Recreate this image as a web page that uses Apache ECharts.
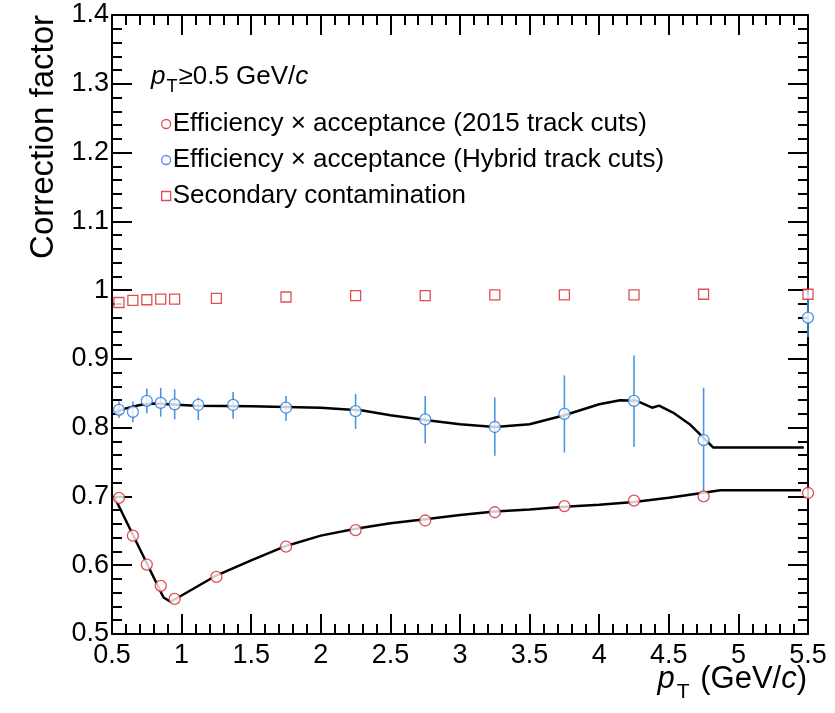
<!DOCTYPE html>
<html>
<head>
<meta charset="utf-8">
<script src="https://cdn.jsdelivr.net/npm/echarts@6/dist/echarts.min.js"></script>
<style>
  html, body { margin: 0; padding: 0; background: #fff; }
  #chart { width: 835px; height: 713px; }
</style>
</head>
<body>
<div id="chart"></div>
<script>
// x positions (GeV/c)
var ptRed = [0.55, 0.65, 0.75, 0.85, 0.95, 1.25, 1.75, 2.25, 2.75, 3.25, 3.75, 4.25, 4.75, 5.5];
var ptBlue = [0.55, 0.65, 0.75, 0.85, 0.95, 1.12, 1.37, 1.75, 2.25, 2.75, 3.25, 3.75, 4.25, 4.75, 5.5];
// efficiency x acceptance, 2015 track cuts
var eff2015 = [0.698, 0.643, 0.601, 0.570, 0.551, 0.583, 0.627, 0.651, 0.665, 0.677, 0.686, 0.694, 0.700, 0.705];
// efficiency x acceptance, hybrid track cuts, with error bar ends
var effHybrid = [0.826, 0.823, 0.839, 0.836, 0.834, 0.833, 0.833, 0.829, 0.824, 0.812, 0.801, 0.820, 0.839, 0.782, 0.960];
var hybLow  = [0.814, 0.808, 0.821, 0.816, 0.812, 0.811, 0.813, 0.810, 0.798, 0.777, 0.759, 0.764, 0.772, 0.707, 0.932];
var hybHigh = [0.838, 0.838, 0.857, 0.858, 0.856, 0.844, 0.852, 0.846, 0.849, 0.846, 0.844, 0.876, 0.905, 0.858, 0.993];
// secondary contamination
var secondary = [0.982, 0.985, 0.986, 0.987, 0.987, 0.988, 0.990, 0.992, 0.992, 0.993, 0.993, 0.993, 0.994, 0.994];
// fit curves
var fitRed = [[0.52,0.698],[0.87,0.553],[0.92,0.547],[1.0,0.556],[1.24,0.584],[1.5,0.607],[1.75,0.628],[2.0,0.643],[2.25,0.653],[2.5,0.661],[2.75,0.667],[3.0,0.673],[3.25,0.678],[3.5,0.681],[3.75,0.685],[4.0,0.688],[4.25,0.692],[4.5,0.698],[4.7,0.704],[4.87,0.709],[5.45,0.709]];
var fitBlue = [[0.52,0.822],[0.6,0.828],[0.7,0.833],[0.8,0.835],[0.9,0.834],[1.1,0.832],[1.5,0.831],[2.0,0.829],[2.3,0.825],[2.5,0.818],[2.75,0.811],[3.0,0.805],[3.25,0.801],[3.5,0.805],[3.75,0.818],[4.0,0.834],[4.15,0.840],[4.27,0.839],[4.38,0.829],[4.43,0.832],[4.53,0.822],[4.65,0.805],[4.75,0.785],[4.82,0.771],[5.47,0.771]];

var RED = "#d8232a";
var BLUE = "#2479d6";
var FONT = "'Liberation Sans', Arial, sans-serif";

function zip(xs, ys) {
  return xs.map(function (x, i) { return [x, ys[i]]; });
}

var chart = echarts.init(document.getElementById("chart"));

var axisLine = { show: true, lineStyle: { color: "#000", width: 2 } };
var tick = { show: true, inside: true, length: 20, lineStyle: { color: "#000", width: 2 } };
var minorTick = { show: true, splitNumber: 5, length: 10, lineStyle: { color: "#000", width: 2 } };

var option = {
  animation: false,
  grid: { left: 112, right: 27, top: 15, bottom: 79, containLabel: false },
  xAxis: [
    {
      type: "value", min: 0.5, max: 5.5, interval: 0.5,
      axisLine: axisLine, axisTick: tick, minorTick: minorTick,
      splitLine: { show: false },
      axisLabel: { fontFamily: FONT, fontSize: 27, color: "#000", margin: 8 }
    },
    {
      type: "value", position: "top", min: 0.5, max: 5.5, interval: 0.5,
      axisLine: axisLine, axisTick: tick, minorTick: minorTick,
      splitLine: { show: false }, axisLabel: { show: false }
    }
  ],
  yAxis: [
    {
      type: "value", min: 0.5, max: 1.4, interval: 0.1,
      axisLine: axisLine, axisTick: tick, minorTick: minorTick,
      splitLine: { show: false },
      axisLabel: { fontFamily: FONT, fontSize: 27, color: "#000", margin: 3 }
    },
    {
      type: "value", position: "right", min: 0.5, max: 1.4, interval: 0.1,
      axisLine: axisLine, axisTick: tick, minorTick: minorTick,
      splitLine: { show: false }, axisLabel: { show: false }
    }
  ],
  legend: {
    orient: "vertical",
    left: 156, top: 106,
    itemWidth: 9, itemHeight: 9, itemGap: 10,
    textStyle: { fontFamily: FONT, fontSize: 26, color: "#000", padding: [0, 0, 0, -3] },
    data: [
      { name: "Efficiency \u00d7 acceptance (2015 track cuts)", icon: "circle",
        itemStyle: { color: "#fff", borderColor: RED, borderWidth: 1.3 } },
      { name: "Efficiency \u00d7 acceptance (Hybrid track cuts)", icon: "circle",
        itemStyle: { color: "#fff", borderColor: BLUE, borderWidth: 1.3 } },
      { name: "Secondary contamination", icon: "rect",
        itemStyle: { color: "#fff", borderColor: RED, borderWidth: 1.3 } }
    ]
  },
  graphic: [
    {
      type: "text", left: 151, top: 64,
      style: {
        text: "{i|p}{s|T}{n|\u22650.5 GeV/}{i|c}",
        rich: {
          i: { fontFamily: FONT, fontSize: 26, fontStyle: "italic", fill: "#000" },
          n: { fontFamily: FONT, fontSize: 26, fill: "#000" },
          s: { fontFamily: FONT, fontSize: 18, fill: "#000", padding: [20, 1, 0, 1] }
        }
      }
    },
    {
      type: "text", right: 28, top: 664,
      style: {
        text: "{i|p}{s|T}{n| (GeV/}{i|c}{n|)}",
        rich: {
          i: { fontFamily: FONT, fontSize: 31, fontStyle: "italic", fill: "#000" },
          n: { fontFamily: FONT, fontSize: 31, fill: "#000" },
          s: { fontFamily: FONT, fontSize: 21, fill: "#000", padding: [26, 2, 0, 2] }
        }
      }
    },
    {
      type: "text", x: 44, y: 15, rotation: Math.PI / 2,
      style: {
        text: "Correction factor", fontFamily: FONT, fontSize: 33, fill: "#000",
        align: "right", verticalAlign: "middle"
      }
    }
  ],
  series: [
    {
      name: "fit2015", type: "line", data: fitRed, showSymbol: false, symbol: "none",
      lineStyle: { color: "#000", width: 2.5 }, z: 3, silent: true
    },
    {
      name: "fitHybrid", type: "line", data: fitBlue, showSymbol: false, symbol: "none",
      lineStyle: { color: "#000", width: 2.5 }, z: 3, silent: true
    },
    {
      name: "hybErr", type: "custom",
      data: ptBlue.map(function (x, i) { return [x, hybLow[i], hybHigh[i]]; }),
      renderItem: function (params, api) {
        var a = api.coord([api.value(0), api.value(1)]);
        var b = api.coord([api.value(0), api.value(2)]);
        return {
          type: "line",
          shape: { x1: a[0], y1: a[1], x2: b[0], y2: b[1] },
          style: { stroke: "#4a95e4", lineWidth: 1.6 }
        };
      },
      z: 2
    },
    {
      name: "Efficiency \u00d7 acceptance (2015 track cuts)", type: "scatter",
      data: zip(ptRed, eff2015), symbol: "circle", symbolSize: 11,
      itemStyle: { color: "#fff", borderColor: RED, borderWidth: 1.3 }, z: 5
    },
    {
      name: "Efficiency \u00d7 acceptance (Hybrid track cuts)", type: "scatter",
      data: zip(ptBlue, effHybrid), symbol: "circle", symbolSize: 11,
      itemStyle: { color: "#fff", borderColor: BLUE, borderWidth: 1.3 }, z: 5
    },
    {
      name: "Secondary contamination", type: "scatter",
      data: zip(ptRed, secondary), symbol: "rect", symbolSize: 10,
      itemStyle: { color: "#fff", borderColor: RED, borderWidth: 1.3 }, z: 5
    }
  ]
};

chart.setOption(option);
window.addEventListener("resize", function () { chart.resize(); });
</script>
</body>
</html>
